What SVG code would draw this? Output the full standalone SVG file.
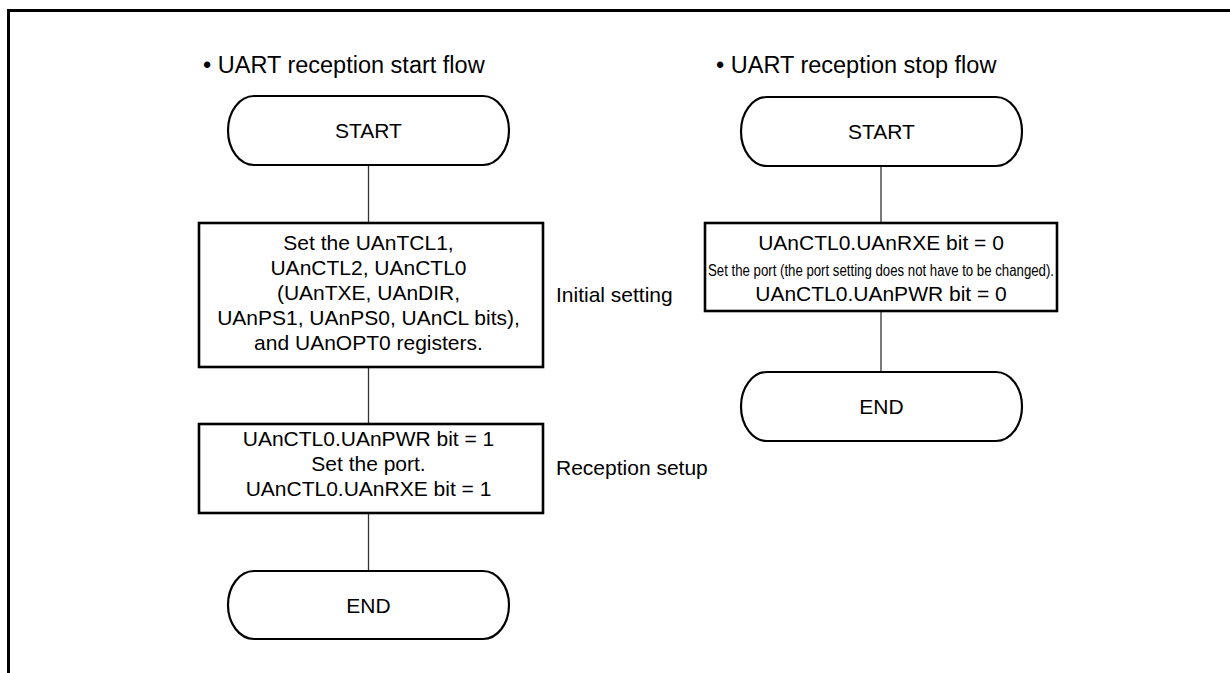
<svg xmlns="http://www.w3.org/2000/svg" width="1230" height="673" viewBox="0 0 1230 673">
<style>
  text { font-family: "Liberation Sans", Arial, Helvetica, sans-serif; fill: #000; }
  .t { font-size: 21px; text-anchor: middle; }
  .title { font-size: 23.5px; }
  .lbl { font-size: 21px; }
  .small { font-size: 16px; text-anchor: middle; }
  .term { fill: #fff; stroke: #000; stroke-width: 2.2; }
  .proc { fill: #fff; stroke: #000; stroke-width: 2.6; }
  .conn { stroke: #333; stroke-width: 1.3; fill: none; }
</style>
<rect width="1230" height="673" fill="#fff"/>
<path d="M8.5 673 V10.5 H1230" fill="none" stroke="#000" stroke-width="3"/>

<text class="title" x="203" y="73">• UART reception start flow</text>
<text class="title" x="716" y="73">• UART reception stop flow</text>

<g id="connectors">
  <line class="conn" x1="368.5" y1="165" x2="368.5" y2="223"/>
  <line class="conn" x1="368.5" y1="367" x2="368.5" y2="424"/>
  <line class="conn" x1="368.5" y1="513" x2="368.5" y2="571"/>
  <line class="conn" x1="881" y1="166" x2="881" y2="223"/>
  <line class="conn" x1="881" y1="311" x2="881" y2="372"/>
</g>

<g id="start1">
  <rect class="term" x="228" y="96" width="281" height="69" rx="26" ry="34.5"/>
  <text class="t" x="368.5" y="138">START</text>
</g>
<g id="init">
  <rect class="proc" x="199" y="223" width="344" height="144"/>
  <text class="t" x="368.5" y="250">Set the UAnTCL1,</text>
  <text class="t" x="368.5" y="275">UAnCTL2, UAnCTL0</text>
  <text class="t" x="368.5" y="300">(UAnTXE, UAnDIR,</text>
  <text class="t" x="368.5" y="325">UAnPS1, UAnPS0, UAnCL bits),</text>
  <text class="t" x="368.5" y="350">and UAnOPT0 registers.</text>
</g>
<text id="lbl-init" class="lbl" x="556" y="302">Initial setting</text>
<g id="rxsetup">
  <rect class="proc" x="199" y="424" width="344" height="89"/>
  <text class="t" x="368.5" y="446">UAnCTL0.UAnPWR bit = 1</text>
  <text class="t" x="368.5" y="471">Set the port.</text>
  <text class="t" x="368.5" y="496">UAnCTL0.UAnRXE bit = 1</text>
</g>
<text id="lbl-rx" class="lbl" x="556" y="475">Reception setup</text>
<g id="end1">
  <rect class="term" x="228" y="571" width="281" height="68" rx="26" ry="34"/>
  <text class="t" x="368.5" y="612.5">END</text>
</g>

<g id="start2">
  <rect class="term" x="741" y="97" width="281" height="69" rx="26" ry="34.5"/>
  <text class="t" x="881.5" y="139">START</text>
</g>
<g id="stop">
  <rect class="proc" x="705" y="223" width="352" height="88"/>
  <text class="t" x="881" y="250">UAnCTL0.UAnRXE bit = 0</text>
  <text class="small" x="881" y="276" textLength="346" lengthAdjust="spacingAndGlyphs">Set the port (the port setting does not have to be changed).</text>
  <text class="t" x="881" y="301">UAnCTL0.UAnPWR bit = 0</text>
</g>
<g id="end2">
  <rect class="term" x="741" y="372" width="281" height="69" rx="26" ry="34.5"/>
  <text class="t" x="881.5" y="414">END</text>
</g>
</svg>
